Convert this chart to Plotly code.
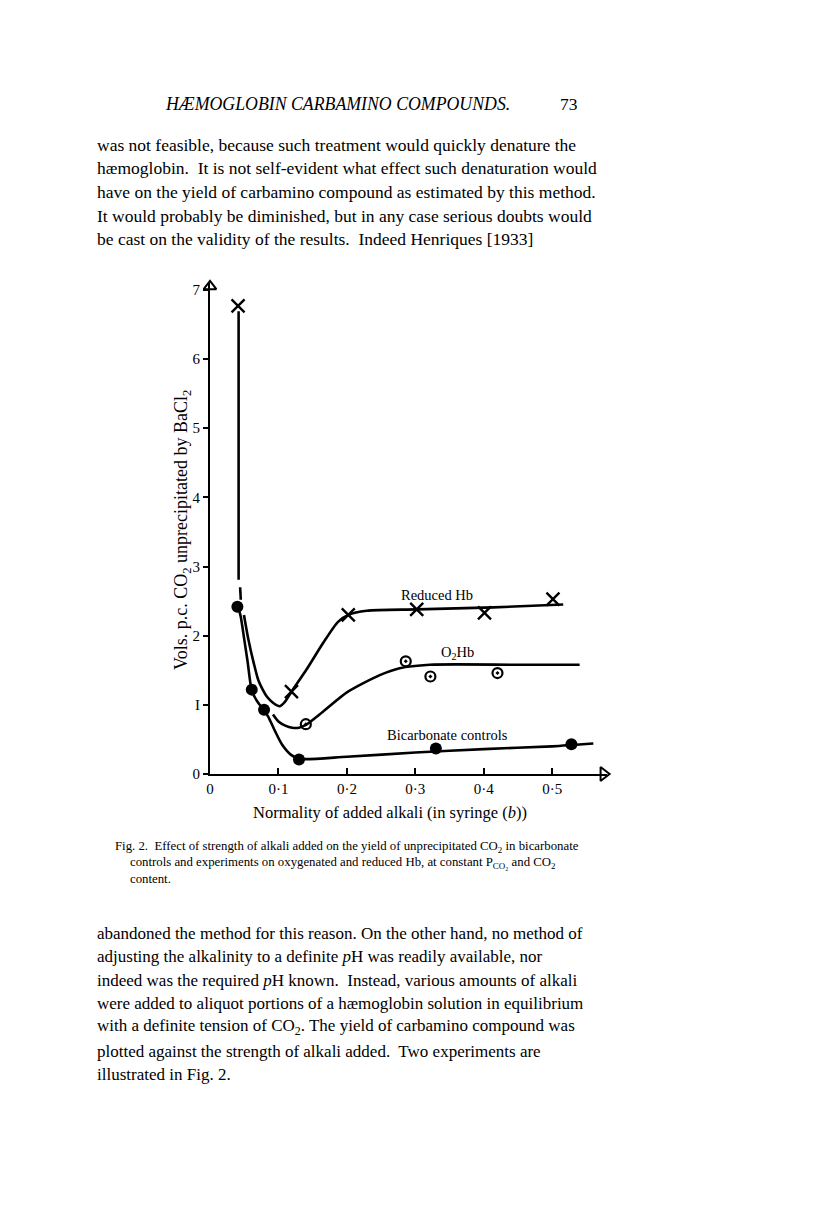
import plotly.graph_objects as go

# --- data -----------------------------------------------------------------
# Reduced Hb (crosses)
red_x = [0.041, 0.119, 0.202, 0.302, 0.401, 0.501]
red_y = [6.77, 1.19, 2.30, 2.38, 2.33, 2.53]
# O2Hb (dotted circles)
oxy_x = [0.140, 0.286, 0.322, 0.420]
oxy_y = [0.72, 1.63, 1.41, 1.46]
# Bicarbonate controls (filled circles)
bic_x = [0.040, 0.061, 0.079, 0.130, 0.330, 0.528]
bic_y = [2.42, 1.22, 0.93, 0.21, 0.37, 0.43]

# hand-drawn curves (None = pen lift)
red_curve_x = [0.0418, 0.0418, None, 0.0440, 0.0450, None, 0.0496, 0.056, 0.064, 0.0705, 0.077,
               0.083, 0.092, 0.102, 0.110, 0.119, 0.141, 0.165, 0.187, 0.202, 0.229, 0.302, 0.414, 0.516]
red_curve_y = [6.69, 2.81, None, 2.70, 2.52, None, 2.30, 1.95, 1.60, 1.36, 1.22,
               1.12, 1.03, 0.98, 1.05, 1.19, 1.51, 1.89, 2.20, 2.30, 2.36, 2.38, 2.41, 2.45]
oxy_curve_x = [0.092, 0.100, 0.110, 0.120, 0.130, 0.140,
               0.165, 0.20, 0.248, 0.277, 0.321, 0.45, 0.540]
oxy_curve_y = [0.86, 0.76, 0.70, 0.67, 0.67, 0.71,
               0.90, 1.18, 1.43, 1.53, 1.58, 1.58, 1.58]
bic_curve_x = [0.041, 0.0448, 0.050, 0.055, 0.061, 0.069, 0.079, 0.085, 0.095, 0.105, 0.118, 0.130,
               0.20, 0.30, 0.40, 0.50, 0.560]
bic_curve_y = [2.42, 2.28, 1.95, 1.62, 1.21, 1.05, 0.92, 0.83, 0.62, 0.43, 0.28, 0.22,
               0.25, 0.31, 0.36, 0.40, 0.44]

x_ticks = [0, 0.1, 0.2, 0.3, 0.4, 0.5]
x_tick_text = ["0", "0·1", "0·2", "0·3", "0·4", "0·5"]
y_ticks = [0, 1, 2, 3, 4, 5, 6, 7]
y_tick_text = ["0", "I", "2", "3", "4", "5", "6", "7"]

top_lines = [
    "was not feasible, because such treatment would quickly denature the",
    "hæmoglobin.  It is not self-evident what effect such denaturation would",
    "have on the yield of carbamino compound as estimated by this method.",
    "It would probably be diminished, but in any case serious doubts would",
    "be cast on the validity of the results.  Indeed Henriques [1933]",
]
caption_lines = [
    "Fig. 2.  Effect of strength of alkali added on the yield of unprecipitated CO<sub>2</sub> in bicarbonate",
    "controls and experiments on oxygenated and reduced Hb, at constant P<sub>CO₂</sub> and CO<sub>2</sub>",
    "content.",
]
bottom_lines = [
    "abandoned the method for this reason. On the other hand, no method of",
    "adjusting the alkalinity to a definite <i>p</i>H was readily available, nor",
    "indeed was the required <i>p</i>H known.  Instead, various amounts of alkali",
    "were added to aliquot portions of a hæmoglobin solution in equilibrium",
    "with a definite tension of CO<sub>2</sub>. The yield of carbamino compound was",
    "plotted against the strength of alkali added.  Two experiments are",
    "illustrated in Fig. 2.",
]

SERIF = "Liberation Serif"
L, R, T, B = 210, 209, 283, 447
PW, PH = 816 - L - R, 1221 - T - B


def page(px, py):
    # page pixel -> paper coords
    return (px - L) / PW, (1221 - B - py) / PH


fig = go.Figure()

for cx, cy in [(red_curve_x, red_curve_y), (oxy_curve_x, oxy_curve_y), (bic_curve_x, bic_curve_y)]:
    fig.add_trace(go.Scatter(x=cx, y=cy, mode="lines", line=dict(color="black", width=2.6, shape="spline", smoothing=0.7),
                             connectgaps=False, hoverinfo="skip", cliponaxis=False))

fig.add_trace(go.Scatter(x=red_x, y=red_y, mode="markers", name="Reduced Hb",
                         marker=dict(symbol="x-thin", size=13, color="black", line=dict(color="black", width=2.4)),
                         cliponaxis=False))
fig.add_trace(go.Scatter(x=oxy_x, y=oxy_y, mode="markers", name="O2Hb",
                         marker=dict(symbol="circle-open-dot", size=10, color="black", line=dict(color="black", width=2.2)),
                         cliponaxis=False))
fig.add_trace(go.Scatter(x=bic_x, y=bic_y, mode="markers", name="Bicarbonate controls",
                         marker=dict(symbol="circle", size=12, color="black"), cliponaxis=False))

# axis arrow heads
fig.add_trace(go.Scatter(x=[0], y=[7.05], mode="markers", cliponaxis=False, hoverinfo="skip",
                         marker=dict(symbol="triangle-up-open", size=11, color="black",
                                     line=dict(color="black", width=2))))
fig.add_trace(go.Scatter(x=[0.575], y=[0], mode="markers", cliponaxis=False, hoverinfo="skip",
                         marker=dict(symbol="triangle-right-open", size=12, color="black",
                                     line=dict(color="black", width=2))))

ann = []
# page header
hx, hy = page(337, 104)
ann.append(dict(x=hx, y=hy, text="<i>HÆMOGLOBIN CARBAMINO COMPOUNDS.</i>", font=dict(size=17.8)))
hx, hy = page(580, 104)
ann.append(dict(x=hx, y=hy, text="73", xanchor="right", font=dict(size=17.5)))

for i, line in enumerate(top_lines):
    px, py = page(95, 145 + i * 23.5)
    ann.append(dict(x=px, y=py, text=line, xanchor="left", font=dict(size=17.5)))

for i, line in enumerate(caption_lines):
    px, py = page(113 if i == 0 else 128, 847 + i * 16)
    ann.append(dict(x=px, y=py, text=line, xanchor="left", font=dict(size=12.8)))

for i, line in enumerate(bottom_lines):
    px, py = page(95, 933 + i * 23.6)
    ann.append(dict(x=px, y=py, text=line, xanchor="left", font=dict(size=17)))

# axis titles and curve labels
px, py = page(390, 812)
ann.append(dict(x=px, y=py, text="Normality of added alkali (in syringe (<i>b</i>))", font=dict(size=16.5)))
px, py = page(182, 530)
ann.append(dict(x=px, y=py, text="Vols. p.c. CO<sub>2</sub> unprecipitated by BaCl<sub>2</sub>", textangle=-90,
                font=dict(size=18)))
for text, (qx, qy) in [("Reduced Hb", (437, 595)), ("O<sub>2</sub>Hb", (457, 653)),
                       ("Bicarbonate controls", (447, 735))]:
    px, py = page(qx, qy)
    ann.append(dict(x=px, y=py, text=text, font=dict(size=14.5)))

for a in ann:
    a.update(xref="paper", yref="paper", showarrow=False)
    a.setdefault("xanchor", "center")
    a.setdefault("yanchor", "middle")

fig.update_layout(
    width=816, height=1221,
    margin=dict(l=L, r=R, t=T, b=B, autoexpand=False),
    paper_bgcolor="white", plot_bgcolor="white",
    showlegend=False,
    font=dict(family=SERIF, color="black", size=14),
    annotations=ann,
    xaxis=dict(range=[0, 0.58], tickvals=x_ticks, ticktext=x_tick_text, showgrid=False, zeroline=False,
               showline=True, linecolor="black", linewidth=2.2, ticks="inside", ticklen=6, tickwidth=1.8,
               tickcolor="black", tickfont=dict(size=15, family=SERIF)),
    yaxis=dict(range=[0, 7.1], tickvals=y_ticks, ticktext=y_tick_text, showgrid=False, zeroline=False,
               showline=True, linecolor="black", linewidth=2.2, ticks="outside", ticklen=5, tickwidth=2,
               tickcolor="black", tickfont=dict(size=15, family=SERIF)),
)

fig.write_html("out.html", config={"displayModeBar": False},
               post_script="document.body.style.margin='0';")
